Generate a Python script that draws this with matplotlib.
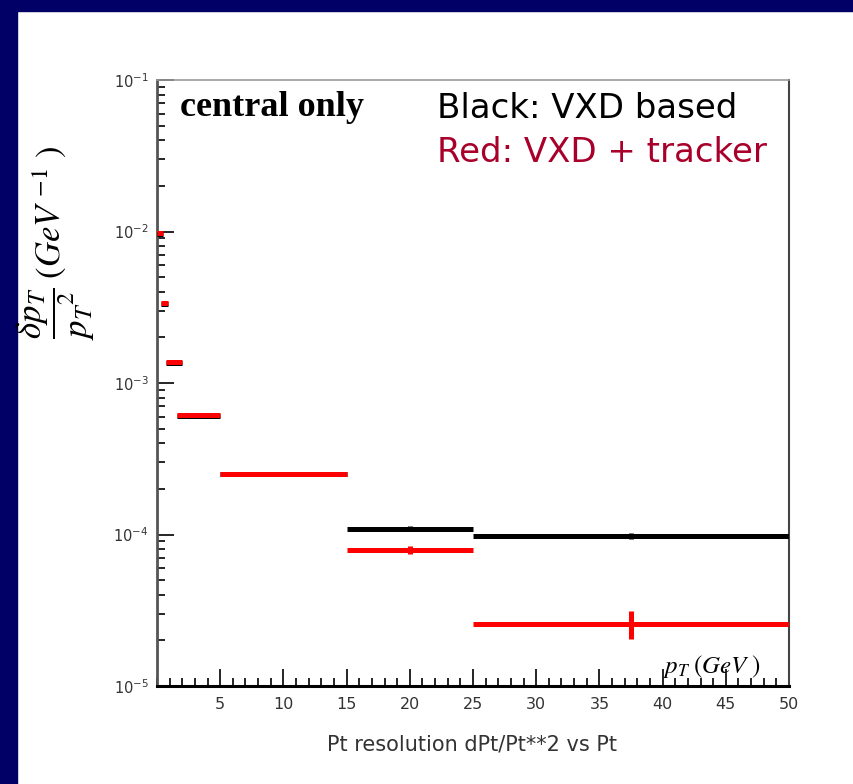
import numpy as np
import matplotlib
matplotlib.use('Agg')
import matplotlib.pyplot as plt
from matplotlib.patches import Rectangle
from matplotlib.ticker import LogLocator, MultipleLocator, NullFormatter

## bin centres / half widths in pT (GeV)
pt_center = [0.25, 0.6, 1.35, 3.3, 10.0, 20.0, 37.5]
pt_halfw = [0.25, 0.3, 0.65, 1.7, 5.0, 5.0, 12.5]

## black: VXD based
vxd_res = [9.7e-3, 3.3e-3, 1.35e-3, 6.1e-4, 2.5e-4, 1.09e-4, 9.8e-5]
vxd_err = [1e-4, 5e-5, 3e-5, 1e-5, 4e-6, 4e-6, 4e-6]

## red: VXD + tracker
trk_res = [9.8e-3, 3.35e-3, 1.37e-3, 6.15e-4, 2.51e-4, 7.9e-5, 2.57e-5]
trk_err = [1e-4, 5e-5, 3e-5, 1e-5, 3e-6, 4.5e-6, 5.4e-6]

xticks = [5, 10, 15, 20, 25, 30, 35, 40, 45, 50]

navy = '#000066'
dark_red = '#a8002a'

plt.rcParams['mathtext.fontset'] = 'stix'

fig = plt.figure(figsize=(8.54, 7.84), dpi=100)
fig.patch.set_facecolor('white')
## the slide border
fig.patches.append(Rectangle((0, 0), 17/854, 1, transform=fig.transFigure,
                             color=navy, zorder=0))
fig.patches.append(Rectangle((0, 1-11/784), 1, 11/784, transform=fig.transFigure,
                             color=navy, zorder=0))

ax = fig.add_axes([157/854, 1-686/784, 632/854, 606/784])
ax.set_yscale('log')
ax.set_xlim(0, 50)
ax.set_ylim(1e-5, 1e-1)

ax.errorbar(pt_center, vxd_res, xerr=pt_halfw, yerr=vxd_err, fmt='none',
            ecolor='black', elinewidth=3.6, capsize=0, zorder=3)
ax.errorbar(pt_center, trk_res, xerr=pt_halfw, yerr=trk_err, fmt='none',
            ecolor='red', elinewidth=3.6, capsize=0, zorder=4)

ax.xaxis.set_major_locator(MultipleLocator(5))
ax.xaxis.set_minor_locator(MultipleLocator(1))
ax.set_xticks(xticks)
ax.set_xticklabels([str(t) for t in xticks])
ax.yaxis.set_major_locator(LogLocator(base=10, numticks=10))
ax.yaxis.set_minor_locator(LogLocator(base=10, subs=np.arange(2, 10), numticks=10))
ax.yaxis.set_minor_formatter(NullFormatter())

ax.tick_params(which='major', direction='in', length=12, width=1.2, colors='black',
               top=False, right=False)
ax.tick_params(which='minor', direction='in', length=6, width=1.2, colors='black',
               top=False, right=False)
ax.tick_params(axis='x', pad=8, labelsize=11.5)
ax.tick_params(axis='y', pad=6, labelsize=10.5)
for lab in ax.get_xticklabels() + ax.get_yticklabels():
    lab.set_color('#333333')

ax.spines['left'].set_color('#555555')
ax.spines['left'].set_linewidth(2)
ax.spines['bottom'].set_linewidth(2.2)
ax.spines['top'].set_color('#999999')
ax.spines['top'].set_linewidth(1.2)
ax.spines['right'].set_color('#444444')
ax.spines['right'].set_linewidth(1.5)

## annotations, placed in pixels of the 854x784 canvas
ax.text(180/854, 1-108/784, 'central only', transform=fig.transFigure,
        family='Liberation Serif', weight='bold', fontsize=26, va='center', ha='left')
ax.text(437/854, 1-108/784, 'Black: VXD based', transform=fig.transFigure,
        family='DejaVu Sans', fontsize=24.5, va='center', ha='left', color='black')
ax.text(437/854, 1-153/784, 'Red: VXD + tracker', transform=fig.transFigure,
        family='DejaVu Sans', fontsize=24.5, va='center', ha='left', color=dark_red)

ax.text(712/854, 1-666/784, r'$p_T\;(GeV\;)$', transform=fig.transFigure, fontsize=18,
        ha='center', va='center')
fig.text(56/854, 1-243/784, r'$\dfrac{\delta p_T}{p_T{}^{2}}\;(GeV\ ^{-1}\ )$',
         rotation=90, fontsize=25, ha='center', va='center')

fig.text(472/854, 1-745/784, 'Pt resolution dPt/Pt**2 vs Pt', fontsize=15,
         ha='center', va='center', color='#333333')

fig.savefig('out.png', dpi=100, facecolor=fig.get_facecolor())
